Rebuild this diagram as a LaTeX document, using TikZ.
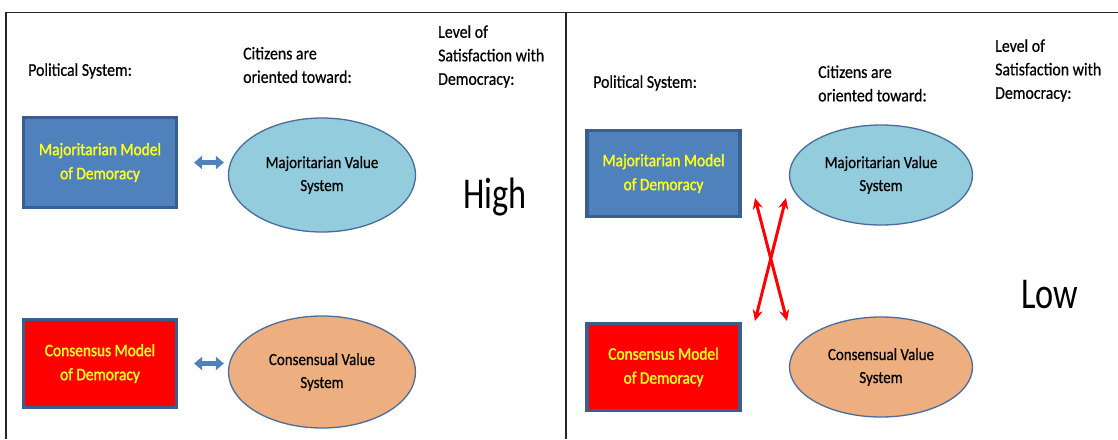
\documentclass[tikz,border=0pt]{standalone}
\usepackage{fontspec}
\setmainfont[FakeStretch=0.88,FakeBold=0.6]{Carlito}
\newfontfamily\bigfont[FakeStretch=0.78]{Carlito}
\newfontfamily\boxfont[FakeStretch=0.88,FakeBold=1.6]{Carlito}
\usetikzlibrary{arrows.meta,shapes.geometric}
\definecolor{boxblue}{HTML}{4F81BD}
\definecolor{boxedge}{HTML}{3A5F8E}
\definecolor{skyfill}{HTML}{93CDDD}
\definecolor{peachfill}{HTML}{EEAF80}
\definecolor{ovaledge}{HTML}{4A6C9C}
\definecolor{linkblue}{HTML}{4F81BD}
\definecolor{boxtext}{HTML}{FFFF20}
\tikzset{
  label/.style={anchor=west, inner sep=0pt, align=left,
    font=\fontsize{18}{23.5}\selectfont},
  modelbox/.style={draw=boxedge, line width=3.2pt, minimum width=153pt,
    inner sep=0pt, align=center, text=boxtext,
    font=\boxfont\fontsize{17.5}{24}\selectfont},
  valueoval/.style={ellipse, draw=ovaledge, line width=1.3pt, inner sep=0pt,
    align=center, font=\fontsize{17}{23}\selectfont},
  level/.style={inner sep=0pt, font=\bigfont\fontsize{44}{44}\selectfont},
  link/.style={linkblue, line width=4.5pt,
    {Triangle[width=13pt,length=8pt]}-{Triangle[width=13pt,length=8pt]}},
  mismatch/.style={red, line width=3pt,
    {Stealth[width=10pt,length=11pt]}-{Stealth[width=10pt,length=11pt]}},
  frame/.style={line width=1.3pt, black!85}
}
\begin{document}
\begin{tikzpicture}[x=1pt, y=-1pt]
  \useasboundingbox (0,0) rectangle (1118,439);
  % frame lines
  \draw[frame] (6,439) -- (6,12.5) -- (1118,12.5);
  \draw[frame] (566,12.5) -- (566,439);

  % ---- left panel: matching system and values ----
  \node[label] (lps) at (28,71) {Political System:};
  \node[label] (lcit) at (243,65) {Citizens are\\oriented toward:};
  \node[label] (llev) at (438,56.5) {Level of\\Satisfaction with\\Democracy:};

  \node[modelbox, fill=boxblue, minimum height=90pt] (lmaj) at (100,162.5)
    {Majoritarian Model\\of Demoracy};
  \node[valueoval, fill=skyfill, minimum width=187pt, minimum height=114pt]
    (lmajv) at (322,175) {Majoritarian Value\\System};
  \node[modelbox, fill=red, minimum height=88pt] (lcon) at (100,363.5)
    {Consensus Model\\of Demoracy};
  \node[valueoval, fill=peachfill, minimum width=187pt, minimum height=112pt]
    (lconv) at (322,372) {Consensual Value\\System};
  \node[level] (high) at (495,197) {High};

  \draw[link, shorten <=16pt, shorten >=4pt] (lmaj.east) -- (lmaj.east -| lmajv.west);
  \draw[link, shorten <=16pt, shorten >=4pt] (lcon.east) -- (lcon.east -| lconv.west);

  % ---- right panel: crossed system and values ----
  \node[label] (rps) at (593,83) {Political System:};
  \node[label] (rcit) at (818,83.5) {Citizens are\\oriented toward:};
  \node[label] (rlev) at (995,70.5) {Level of\\Satisfaction with\\Democracy:};

  \node[modelbox, fill=boxblue, minimum height=86pt] (rmaj) at (663.5,173.5)
    {Majoritarian Model\\of Demoracy};
  \node[valueoval, fill=skyfill, minimum width=183pt, minimum height=100pt]
    (rmajv) at (881,175) {Majoritarian Value\\System};
  \node[modelbox, fill=red, minimum height=87pt] (rcon) at (663.5,367)
    {Consensus Model\\of Demoracy};
  \node[valueoval, fill=peachfill, minimum width=183pt, minimum height=100pt]
    (rconv) at (881,367) {Consensual Value\\System};
  \node[level] (low) at (1050,295) {Low};

  \coordinate (xa) at (755,198);
  \coordinate (xb) at (786,198);
  \coordinate (xc) at (755,321);
  \coordinate (xd) at (787,321);
  \draw[mismatch] (xa) -- (xd);
  \draw[mismatch] (xb) -- (xc);
\end{tikzpicture}
\end{document}
